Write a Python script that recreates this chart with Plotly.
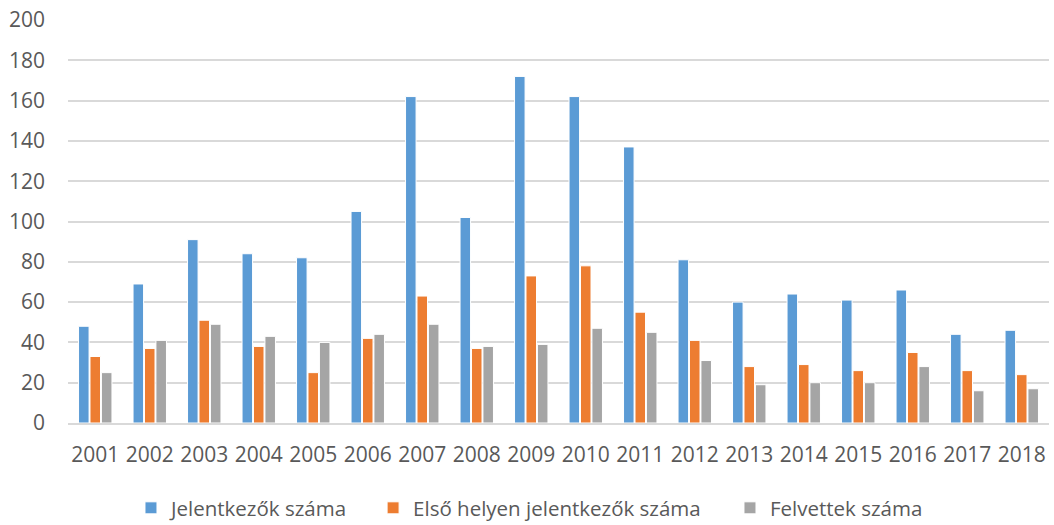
import plotly.graph_objects as go

years = [str(y) for y in range(2001, 2019)]
jelentkezok = [48, 69, 91, 84, 82, 105, 162, 102, 172, 162, 137, 81, 60, 64, 61, 66, 44, 46]
elso_helyen = [33, 37, 51, 38, 25, 42, 63, 37, 73, 78, 55, 41, 28, 29, 26, 35, 26, 24]
felvettek = [25, 41, 49, 43, 40, 44, 49, 38, 39, 47, 45, 31, 19, 20, 20, 28, 16, 17]
y_ticks = [0, 20, 40, 60, 80, 100, 120, 140, 160, 180, 200]

series = [
    ("Jelentkezők száma", jelentkezok, "#5b9bd5", "legend2"),
    ("Első helyen jelentkezők száma", elso_helyen, "#ed7d31", "legend3"),
    ("Felvettek száma", felvettek, "#a5a5a5", "legend4"),
]

fig = go.Figure()
for name, vals, color, lg in series:
    fig.add_trace(go.Bar(x=years, y=vals, name=name, legend=lg, showlegend=True,
                         marker=dict(color=color, line=dict(color="white", width=1))))

font = "'Open Sans', sans-serif"
leg_common = dict(orientation="h", xanchor="left", yref="container", y=0.0324,
                  yanchor="middle", font=dict(size=20.5, color="#595959"), itemwidth=30,
                  bgcolor="rgba(0,0,0,0)")

fig.update_layout(
    width=1054, height=525,
    margin=dict(l=68, r=5, t=20, b=101.5),
    paper_bgcolor="white", plot_bgcolor="white",
    barmode="group", bargap=0.37, bargroupgap=0.08,
    font=dict(family=font, size=20, color="#595959"),
    legend2=dict(x=0.0642, **leg_common),
    legend3=dict(x=0.311, **leg_common),
    legend4=dict(x=0.6748, **leg_common),
    yaxis=dict(range=[0, 200], tickmode="array", tickvals=y_ticks,
               showgrid=True, gridcolor="#d9d9d9", gridwidth=1.5,
               zeroline=False, showline=False, ticks="", ticklabelstandoff=22,
               ticklabeloverflow="allow",
               automargin=False, tickfont=dict(size=21, color="#595959")),
    xaxis=dict(showline=True, linecolor="#d9d9d9", linewidth=1.5, ticks="",
               ticklabelstandoff=12, automargin=False, ticklabeloverflow="allow",
               tickfont=dict(size=21, color="#595959")),
)

fig.write_html("out.html", config={"displayModeBar": False},
               post_script="document.body.style.margin='0';")
